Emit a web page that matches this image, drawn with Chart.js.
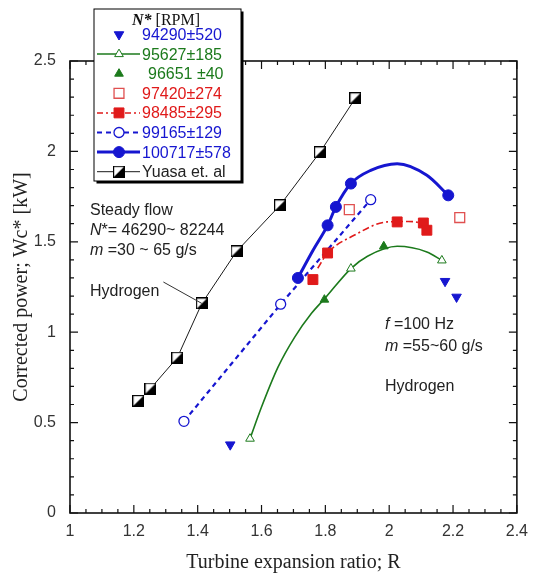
<!DOCTYPE html>
<html>
<head>
<meta charset="utf-8">
<script src="https://cdn.jsdelivr.net/npm/chart.js@4.4.0/dist/chart.umd.min.js"></script>
<style>
  html, body { margin: 0; padding: 0; background: #fff; }
</style>
</head>
<body>
<canvas id="grafico" width="537" height="576"></canvas>
<script>
// ticks
const xTicks = [1, 1.2, 1.4, 1.6, 1.8, 2, 2.2, 2.4];
const yTicks = [0, 0.5, 1, 1.5, 2, 2.5];

// N* = 94290 (filled down triangles)
const s94290R = [1.502, 2.175, 2.211];
const s94290W = [0.378, 1.282, 1.195];
// N* = 95627 (open triangles)
const s95627R = [1.564, 1.880, 2.165];
const s95627W = [0.411, 1.352, 1.397];
// N* = 96651 (filled triangles)
const s96651R = [1.797, 1.983];
const s96651W = [1.180, 1.475];
// N* = 97420 (open squares)
const s97420R = [1.875, 2.221];
const s97420W = [1.678, 1.634];
// N* = 98485 (filled squares)
const s98485R = [1.761, 1.807, 2.025, 2.107, 2.118];
const s98485W = [1.291, 1.438, 1.610, 1.604, 1.564];
// N* = 99165 (open circles, dashed)
const s99165R = [1.357, 1.660, 1.942];
const s99165W = [0.507, 1.155, 1.733];
// N* = 100717 (filled circles)
const s100717R = [1.714, 1.807, 1.833, 1.880, 2.185];
const s100717W = [1.300, 1.591, 1.693, 1.822, 1.757];
// Yuasa et al, steady flow
const yuasaR = [1.214, 1.252, 1.336, 1.413, 1.522, 1.658, 1.783, 1.894];
const yuasaW = [0.620, 0.688, 0.859, 1.159, 1.447, 1.702, 1.995, 2.294];

// fitted curves
const fitAzulR = [1.714, 1.761, 1.807, 1.833, 1.880, 1.942, 2.025, 2.118, 2.185];
const fitAzulW = [1.300, 1.452, 1.591, 1.693, 1.822, 1.895, 1.932, 1.868, 1.757];
const fitVermR = [1.776, 1.807, 1.890, 1.994, 2.060, 2.107, 2.118];
const fitVermW = [1.354, 1.438, 1.536, 1.610, 1.612, 1.595, 1.564];
const fitVerdeR = [1.564, 1.600, 1.652, 1.704, 1.756, 1.800, 1.880, 1.932, 2.025, 2.118, 2.165];
const fitVerdeW = [0.411, 0.586, 0.808, 0.973, 1.103, 1.190, 1.352, 1.420, 1.475, 1.444, 1.397];

const legendLabels = ["94290\u00b1520", "95627\u00b1185", "96651 \u00b140", "97420\u00b1274",
  "98485\u00b1295", "99165\u00b1129", "100717\u00b1578", "Yuasa et. al"];

const AZUL = "#1616d0";
const VERDE = "#1c7a1c";
const VERM = "#e01a1a";
const PRETO = "#1a1a1a";
const SANS = "'Liberation Sans', Arial, sans-serif";
const SERIF = "'Liberation Serif', 'Times New Roman', serif";

const pts = (xs, ys) => xs.map((x, i) => ({ x, y: ys[i] }));

// half filled square marker
const meioQuadrado = document.createElement("canvas");
meioQuadrado.width = 12;
meioQuadrado.height = 12;
(() => {
  const c = meioQuadrado.getContext("2d");
  c.fillStyle = "#fff";
  c.fillRect(0.5, 0.5, 11, 11);
  c.fillStyle = "#000";
  c.beginPath();
  c.moveTo(11.5, 0.5);
  c.lineTo(11.5, 11.5);
  c.lineTo(0.5, 11.5);
  c.closePath();
  c.fill();
  c.strokeStyle = "#000";
  c.lineWidth = 1.2;
  c.strokeRect(0.6, 0.6, 10.8, 10.8);
})();

const marcadores = [
  { pointStyle: "triangle", pointRotation: 180, pointRadius: 5.5, pointBackgroundColor: AZUL, pointBorderColor: AZUL },
  { pointStyle: "triangle", pointRadius: 5, pointBackgroundColor: "#fff", pointBorderColor: VERDE, pointBorderWidth: 1 },
  { pointStyle: "triangle", pointRadius: 5, pointBackgroundColor: VERDE, pointBorderColor: VERDE },
  { pointStyle: "rect", pointRadius: 7, pointBackgroundColor: "#fff", pointBorderColor: "#e05050", pointBorderWidth: 1.3 },
  { pointStyle: "rect", pointRadius: 7, pointBackgroundColor: VERM, pointBorderColor: VERM },
  { pointStyle: "circle", pointRadius: 5, pointBackgroundColor: "#fff", pointBorderColor: AZUL, pointBorderWidth: 1.3 },
  { pointStyle: "circle", pointRadius: 5.5, pointBackgroundColor: AZUL, pointBorderColor: AZUL },
  { pointStyle: meioQuadrado, pointRadius: 6 }
];

const legendaLinhas = [
  null,
  { color: VERDE, width: 1.5, dash: [] },
  null,
  null,
  { color: VERM, width: 1.5, dash: [6, 3, 2, 3] },
  { color: AZUL, width: 2, dash: [5, 4] },
  { color: AZUL, width: 3, dash: [] },
  { color: PRETO, width: 1, dash: [] }
];
const legendaCores = [AZUL, VERDE, VERDE, VERM, VERM, AZUL, AZUL, "#222"];

function texto(ctx, x, y, partes) {
  let cx = x;
  partes.forEach(([t, f]) => {
    ctx.font = f;
    ctx.fillText(t, cx, y);
    cx += ctx.measureText(t).width;
  });
  return cx;
}

const moldura = {
  id: "moldura",
  afterDatasetsDraw(chart) {
    const { ctx, chartArea: a, scales: { x, y } } = chart;
    ctx.save();
    ctx.strokeStyle = "#111";
    ctx.lineWidth = 1.6;
    ctx.strokeRect(a.left, a.top, a.right - a.left, a.bottom - a.top);
    ctx.lineWidth = 1.2;
    ctx.beginPath();
    for (let i = 0; i <= 28; i++) {
      const px = x.getPixelForValue(1 + i * 0.05);
      const len = i % 4 === 0 ? 8 : 4;
      ctx.moveTo(px, a.bottom); ctx.lineTo(px, a.bottom - len);
      ctx.moveTo(px, a.top); ctx.lineTo(px, a.top + len);
    }
    for (let i = 0; i <= 25; i++) {
      const py = y.getPixelForValue(i * 0.1);
      const len = i % 5 === 0 ? 8 : 4;
      ctx.moveTo(a.left, py); ctx.lineTo(a.left + len, py);
      ctx.moveTo(a.right, py); ctx.lineTo(a.right - len, py);
    }
    ctx.stroke();
    ctx.restore();
  },
  afterDraw(chart) {
    const { ctx, scales: { x, y } } = chart;
    ctx.save();

    // annotations
    const f = "16px " + SANS, fi = "italic 16px " + SANS;
    ctx.fillStyle = "#222";
    ctx.textBaseline = "middle";
    ctx.textAlign = "left";
    texto(ctx, 90, 211, [["Steady flow", f]]);
    texto(ctx, 90, 231, [["N", fi], ["*= 46290~ 82244", f]]);
    texto(ctx, 90, 251, [["m", fi], [" =30 ~ 65 g/s", f]]);
    const fimH = texto(ctx, 90, 292, [["Hydrogen", f]]);
    texto(ctx, 385, 325, [["f", fi], [" =100 Hz", f]]);
    texto(ctx, 385, 347, [["m", fi], [" =55~60 g/s", f]]);
    texto(ctx, 385, 387, [["Hydrogen", f]]);

    ctx.strokeStyle = "#333";
    ctx.lineWidth = 1;
    ctx.beginPath();
    ctx.moveTo(fimH + 4, 282);
    ctx.lineTo(x.getPixelForValue(yuasaR[3]), y.getPixelForValue(yuasaW[3]));
    ctx.stroke();

    // legend box
    const bx = 94, by = 9, bw = 147, bh = 172;
    ctx.fillStyle = "#000";
    ctx.fillRect(bx + 2.5, by + 2.5, bw, bh);
    ctx.fillStyle = "#fff";
    ctx.fillRect(bx, by, bw, bh);
    ctx.strokeStyle = "#000";
    ctx.lineWidth = 1;
    ctx.strokeRect(bx, by, bw, bh);

    ctx.fillStyle = "#111";
    const w1 = (ctx.font = "bold italic 16px " + SERIF, ctx.measureText("N*").width);
    const w2 = (ctx.font = "16px " + SERIF, ctx.measureText(" [RPM]").width);
    texto(ctx, 166 - (w1 + w2) / 2, 21, [["N*", "bold italic 16px " + SERIF], [" [RPM]", "16px " + SERIF]]);

    legendLabels.forEach((lab, i) => {
      const ly = 34.5 + i * 19.6;
      const ln = legendaLinhas[i];
      if (ln) {
        ctx.strokeStyle = ln.color;
        ctx.lineWidth = ln.width;
        ctx.setLineDash(ln.dash);
        ctx.beginPath();
        ctx.moveTo(97, ly);
        ctx.lineTo(140, ly);
        ctx.stroke();
        ctx.setLineDash([]);
      }
      const m = marcadores[i];
      ctx.fillStyle = m.pointBackgroundColor || "#000";
      ctx.strokeStyle = m.pointBorderColor || "#000";
      ctx.lineWidth = m.pointBorderWidth || 1;
      Chart.helpers.drawPoint(ctx, {
        pointStyle: m.pointStyle,
        radius: m.pointRadius,
        rotation: m.pointRotation || 0,
        borderWidth: m.pointBorderWidth || 1
      }, 119, ly);
      ctx.fillStyle = legendaCores[i];
      ctx.font = "16px " + SANS;
      ctx.fillText(lab, i === 2 ? 148 : 142, ly + 1);
    });
    ctx.restore();
  }
};

const series = [
  [s94290R, s94290W], [s95627R, s95627W], [s96651R, s96651W], [s97420R, s97420W],
  [s98485R, s98485W], [s99165R, s99165W], [s100717R, s100717W], [yuasaR, yuasaW]
];

const datasets = series.map(([r, w], i) => Object.assign({
  label: legendLabels[i],
  data: pts(r, w),
  showLine: false,
  order: 1
}, marcadores[i]));

// dashed line for 99165, thin line for Yuasa
Object.assign(datasets[5], { showLine: true, borderColor: AZUL, borderWidth: 2.2, borderDash: [5, 4] });
Object.assign(datasets[7], { showLine: true, borderColor: PRETO, borderWidth: 1 });

datasets.push(
  { label: "fit 100717", data: pts(fitAzulR, fitAzulW), showLine: true, pointRadius: 0,
    borderColor: AZUL, borderWidth: 3, cubicInterpolationMode: "monotone", order: 5 },
  { label: "fit 98485", data: pts(fitVermR, fitVermW), showLine: true, pointRadius: 0,
    borderColor: VERM, borderWidth: 1.6, borderDash: [7, 3, 2, 3], cubicInterpolationMode: "monotone", order: 5 },
  { label: "fit 95627", data: pts(fitVerdeR, fitVerdeW), showLine: true, pointRadius: 0,
    borderColor: VERDE, borderWidth: 1.6, cubicInterpolationMode: "monotone", order: 5 }
);

new Chart(document.getElementById("grafico"), {
  type: "scatter",
  data: { datasets },
  options: {
    responsive: false,
    animation: false,
    devicePixelRatio: 1,
    layout: { padding: { top: 61, right: 15, left: 0, bottom: 0 } },
    plugins: { legend: { display: false }, tooltip: { enabled: false } },
    scales: {
      x: {
        type: "linear", min: 1, max: 2.4,
        afterBuildTicks: s => { s.ticks = xTicks.map(v => ({ value: v })); },
        afterFit: s => { s.height = 63; },
        grid: { display: false, drawTicks: false },
        border: { display: false },
        ticks: { padding: 9, color: "#333", font: { family: SANS, size: 16 }, autoSkip: false, maxRotation: 0,
          callback: v => String(v) },
        title: { display: true, text: "Turbine expansion ratio; R", color: "#222",
          font: { family: SERIF, size: 20 }, padding: { top: 0, bottom: 1 } }
      },
      y: {
        type: "linear", min: 0, max: 2.5,
        afterBuildTicks: s => { s.ticks = yTicks.map(v => ({ value: v })); },
        afterFit: s => { s.width = 70; },
        grid: { display: false, drawTicks: false },
        border: { display: false },
        ticks: { padding: 14, color: "#333", font: { family: SANS, size: 16 }, callback: v => String(v) },
        title: { display: true, text: "Corrected power; Wc* [kW]", color: "#222",
          font: { family: SERIF, size: 20 }, padding: { top: 10, bottom: 0 } }
      }
    }
  },
  plugins: [moldura]
});
</script>
</body>
</html>
